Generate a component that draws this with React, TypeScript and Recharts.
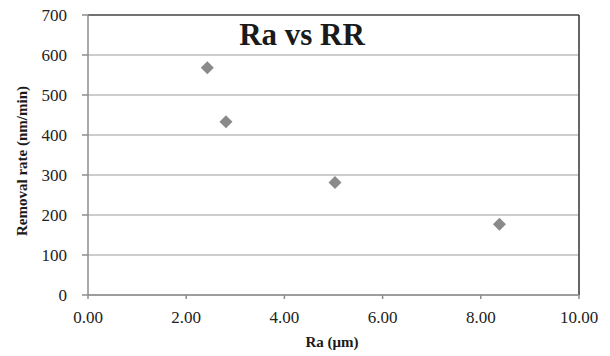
import {
  ReferenceLine,
  Scatter,
  ScatterChart,
  CartesianGrid,
  XAxis,
  YAxis,
} from "recharts";

// Ra (µm) against removal rate (nm/min)
const raValues = [2.43, 2.81, 5.03, 8.38];
const rrValues = [568, 433, 281, 177];
const xTicks = [0, 2, 4, 6, 8, 10];
const yTicks = [0, 100, 200, 300, 400, 500, 600, 700];

const points = raValues.map((ra, i) => ({ x: ra, y: rrValues[i] }));

const serif = '"Liberation Serif", "Times New Roman", serif';

function Diamond(props: any) {
  const { cx, cy } = props;
  const r = 6.5;
  return (
    <polygon
      points={`${cx},${cy - r} ${cx + r},${cy} ${cx},${cy + r} ${cx - r},${cy}`}
      fill="#8a8a8a"
    />
  );
}

export default function App() {
  return (
    <div style={{ position: "absolute", left: 0, top: 0, background: "#fff" }}>
      <ScatterChart
        width={610}
        height={356}
        margin={{ top: 15, right: 31, bottom: 31, left: 0 }}
      >
        <CartesianGrid stroke="#bdbdbd" strokeWidth={1.5} vertical={false} />
        <XAxis
          type="number"
          dataKey="x"
          domain={[0, 10]}
          ticks={xTicks}
          tickFormatter={(v: number) => v.toFixed(2)}
          stroke="#8c8c8c"
          strokeWidth={1.5}
          tickSize={4}
          tickMargin={12}
          tick={{ fill: "#222", fontSize: 17, fontFamily: serif }}
        />
        <YAxis
          type="number"
          dataKey="y"
          domain={[0, 700]}
          ticks={yTicks}
          width={88}
          stroke="#8c8c8c"
          strokeWidth={1.5}
          tickSize={6}
          tickMargin={15}
          tick={{ fill: "#222", fontSize: 17, fontFamily: serif }}
        />
        <ReferenceLine y={700} stroke="#555" strokeWidth={1.5} />
        <ReferenceLine x={10} stroke="#333" strokeWidth={1.5} />
        <Scatter data={points} shape={<Diamond />} isAnimationActive={false} />
        <text
          x={302}
          y={45}
          textAnchor="middle"
          fontFamily={serif}
          fontWeight="bold"
          fontSize={31}
          fill="#1a1a1a"
        >
          Ra vs RR
        </text>
        <text
          x={332}
          y={347}
          textAnchor="middle"
          fontFamily={serif}
          fontWeight="bold"
          fontSize={15}
          fill="#1a1a1a"
        >
          Ra (μm)
        </text>
        <text
          transform="translate(27,161) rotate(-90)"
          textAnchor="middle"
          fontFamily={serif}
          fontWeight="bold"
          fontSize={15}
          fill="#1a1a1a"
        >
          Removal rate (nm/min)
        </text>
      </ScatterChart>
    </div>
  );
}
